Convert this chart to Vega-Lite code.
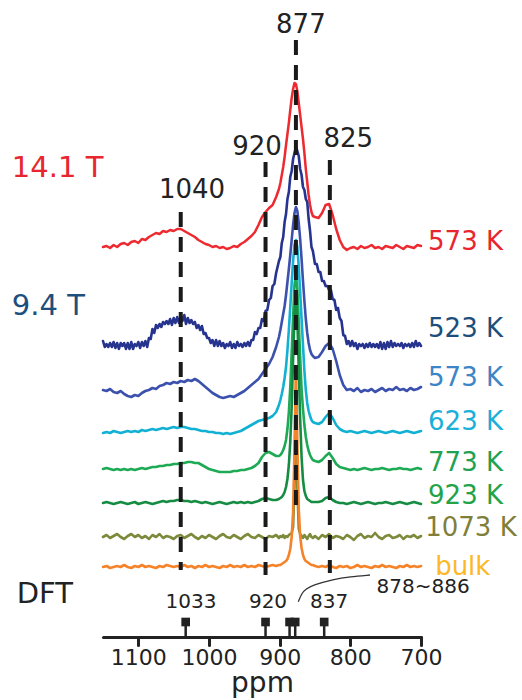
{
"$schema":"https://vega.github.io/schema/vega-lite/v6.json",
"width":318,"height":637,
"autosize":"none",
"padding":{"left":103,"top":0,"right":101,"bottom":63},
"config":{"view":{"stroke":null},"font":"DejaVu Sans"},
"resolve":{"scale":{"color":"independent"}},
"datasets":{
"spectra":[
{"ppm":1150,"r573":390,"b573":247,"c623":204,"g773":168,"d923":134,"o1073":100,"bulk":70},
{"ppm":1145,"r573":391,"b573":246,"c623":205,"g773":169,"d923":135,"o1073":102,"bulk":71},
{"ppm":1140,"r573":389,"b573":248,"c623":204,"g773":168,"d923":134,"o1073":99,"bulk":69},
{"ppm":1135,"r573":392,"b573":245,"c623":206,"g773":167,"d923":133,"o1073":101,"bulk":70},
{"ppm":1130,"r573":390,"b573":244,"c623":205,"g773":168,"d923":134,"o1073":103,"bulk":71},
{"ppm":1125,"r573":393,"b573":246,"c623":204,"g773":167,"d923":135,"o1073":100,"bulk":70},
{"ppm":1120,"r573":394,"b573":243,"c623":205,"g773":168,"d923":134,"o1073":98,"bulk":72},
{"ppm":1115,"r573":392,"b573":241,"c623":206,"g773":167,"d923":133,"o1073":101,"bulk":70},
{"ppm":1110,"r573":395,"b573":240,"c623":205,"g773":168,"d923":134,"o1073":103,"bulk":69},
{"ppm":1105,"r573":396,"b573":242,"c623":206,"g773":167,"d923":135,"o1073":100,"bulk":71},
{"ppm":1100,"r573":394,"b573":241,"c623":205,"g773":168,"d923":133,"o1073":102,"bulk":70},
{"ppm":1095,"r573":398,"b573":244,"c623":207,"g773":169,"d923":134,"o1073":99,"bulk":72},
{"ppm":1090,"r573":397,"b573":246,"c623":206,"g773":168,"d923":135,"o1073":101,"bulk":70},
{"ppm":1085,"r573":400,"b573":247,"c623":207,"g773":169,"d923":134,"o1073":98,"bulk":71},
{"ppm":1080,"r573":402,"b573":249,"c623":208,"g773":170,"d923":133,"o1073":102,"bulk":70},
{"ppm":1075,"r573":404,"b573":248,"c623":207,"g773":170,"d923":134,"o1073":100,"bulk":69},
{"ppm":1070,"r573":403,"b573":251,"c623":208,"g773":171,"d923":135,"o1073":103,"bulk":71},
{"ppm":1065,"r573":406,"b573":252,"c623":209,"g773":171,"d923":136,"o1073":99,"bulk":70},
{"ppm":1060,"r573":405,"b573":254,"c623":208,"g773":172,"d923":135,"o1073":101,"bulk":72},
{"ppm":1055,"r573":407,"b573":253,"c623":209,"g773":172,"d923":136,"o1073":100,"bulk":71},
{"ppm":1050,"r573":406,"b573":255,"c623":210,"g773":173,"d923":136,"o1073":98,"bulk":70},
{"ppm":1045,"r573":408,"b573":254,"c623":209,"g773":173,"d923":137,"o1073":101,"bulk":71},
{"ppm":1040,"r573":408,"b573":256,"c623":210,"g773":174,"d923":137,"o1073":102,"bulk":70},
{"ppm":1035,"r573":406,"b573":255,"c623":210,"g773":174,"d923":136,"o1073":99,"bulk":72},
{"ppm":1030,"r573":404,"b573":257,"c623":209,"g773":175,"d923":136,"o1073":101,"bulk":70},
{"ppm":1025,"r573":402,"b573":256,"c623":208,"g773":175,"d923":135,"o1073":103,"bulk":71},
{"ppm":1020,"r573":400,"b573":258,"c623":208,"g773":174,"d923":136,"o1073":100,"bulk":69},
{"ppm":1015,"r573":397,"b573":256,"c623":207,"g773":174,"d923":135,"o1073":98,"bulk":71},
{"ppm":1010,"r573":395,"b573":253,"c623":206,"g773":172,"d923":134,"o1073":101,"bulk":70},
{"ppm":1005,"r573":393,"b573":250,"c623":206,"g773":170,"d923":135,"o1073":99,"bulk":72},
{"ppm":1000,"r573":392,"b573":247,"c623":205,"g773":168,"d923":134,"o1073":102,"bulk":70},
{"ppm":995,"r573":390,"b573":244,"c623":205,"g773":167,"d923":133,"o1073":100,"bulk":71},
{"ppm":990,"r573":391,"b573":242,"c623":204,"g773":166,"d923":134,"o1073":98,"bulk":70},
{"ppm":985,"r573":389,"b573":240,"c623":204,"g773":165,"d923":135,"o1073":101,"bulk":69},
{"ppm":980,"r573":390,"b573":239,"c623":203,"g773":165,"d923":134,"o1073":103,"bulk":71},
{"ppm":975,"r573":388,"b573":240,"c623":204,"g773":165,"d923":133,"o1073":100,"bulk":70},
{"ppm":970,"r573":389,"b573":241,"c623":203,"g773":165,"d923":134,"o1073":99,"bulk":72},
{"ppm":965,"r573":391,"b573":240,"c623":204,"g773":166,"d923":135,"o1073":102,"bulk":70},
{"ppm":960,"r573":390,"b573":242,"c623":205,"g773":166,"d923":134,"o1073":100,"bulk":71},
{"ppm":955,"r573":393,"b573":244,"c623":206,"g773":167,"d923":135,"o1073":98,"bulk":70},
{"ppm":950,"r573":395,"b573":246,"c623":208,"g773":167,"d923":134,"o1073":101,"bulk":72},
{"ppm":945,"r573":398,"b573":249,"c623":210,"g773":168,"d923":135,"o1073":103,"bulk":70},
{"ppm":940,"r573":401,"b573":252,"c623":212,"g773":169,"d923":134,"o1073":100,"bulk":71},
{"ppm":935,"r573":405,"b573":255,"c623":214,"g773":171,"d923":135,"o1073":99,"bulk":70},
{"ppm":930,"r573":412,"b573":258,"c623":216,"g773":174,"d923":136,"o1073":102,"bulk":72},
{"ppm":925,"r573":420,"b573":263,"c623":217,"g773":180,"d923":138,"o1073":100,"bulk":71},
{"ppm":920,"r573":425,"b573":268,"c623":218,"g773":184,"d923":139,"o1073":98,"bulk":70},
{"ppm":915,"r573":429,"b573":273,"c623":219,"g773":185,"d923":138,"o1073":101,"bulk":71},
{"ppm":910,"r573":432,"b573":280,"c623":221,"g773":183,"d923":137,"o1073":100,"bulk":72},
{"ppm":905,"r573":440,"b573":290,"c623":225,"g773":181,"d923":137,"o1073":102,"bulk":71},
{"ppm":901,"r573":448,"b573":300,"c623":232,"g773":181,"d923":138,"o1073":99,"bulk":72},
{"ppm":899,"r573":454,"b573":307,"c623":237,"g773":182,"d923":139,"o1073":101,"bulk":72},
{"ppm":897,"r573":462,"b573":315,"c623":243,"g773":184,"d923":140,"o1073":100,"bulk":73},
{"ppm":895,"r573":470,"b573":323,"c623":250,"g773":187,"d923":142,"o1073":102,"bulk":74},
{"ppm":893,"r573":480,"b573":331,"c623":259,"g773":191,"d923":145,"o1073":99,"bulk":75},
{"ppm":891,"r573":492,"b573":342,"c623":270,"g773":197,"d923":150,"o1073":101,"bulk":76},
{"ppm":889,"r573":503,"b573":355,"c623":287,"g773":208,"d923":158,"o1073":100,"bulk":78},
{"ppm":887,"r573":514,"b573":368,"c623":307,"g773":225,"d923":172,"o1073":102,"bulk":82},
{"ppm":885,"r573":527,"b573":382,"c623":330,"g773":250,"d923":195,"o1073":103,"bulk":88},
{"ppm":883,"r573":539,"b573":397,"c623":354,"g773":285,"d923":230,"o1073":104,"bulk":100},
{"ppm":881,"r573":548,"b573":412,"c623":376,"g773":320,"d923":278,"o1073":110,"bulk":125},
{"ppm":879,"r573":554,"b573":424,"c623":392,"g773":352,"d923":322,"o1073":150,"bulk":190},
{"ppm":877,"r573":553,"b573":430,"c623":397,"g773":362,"d923":340,"o1073":245,"bulk":270},
{"ppm":875,"r573":546,"b573":426,"c623":390,"g773":348,"d923":318,"o1073":150,"bulk":195},
{"ppm":873,"r573":534,"b573":414,"c623":370,"g773":315,"d923":268,"o1073":108,"bulk":128},
{"ppm":871,"r573":522,"b573":398,"c623":345,"g773":280,"d923":218,"o1073":103,"bulk":101},
{"ppm":869,"r573":510,"b573":378,"c623":318,"g773":248,"d923":180,"o1073":101,"bulk":89},
{"ppm":867,"r573":498,"b573":356,"c623":292,"g773":228,"d923":157,"o1073":99,"bulk":82},
{"ppm":865,"r573":484,"b573":336,"c623":266,"g773":212,"d923":146,"o1073":102,"bulk":78},
{"ppm":863,"r573":468,"b573":318,"c623":247,"g773":200,"d923":141,"o1073":100,"bulk":76},
{"ppm":861,"r573":455,"b573":304,"c623":234,"g773":192,"d923":138,"o1073":98,"bulk":75},
{"ppm":859,"r573":442,"b573":294,"c623":226,"g773":186,"d923":137,"o1073":101,"bulk":74},
{"ppm":857,"r573":432,"b573":287,"c623":221,"g773":182,"d923":136,"o1073":103,"bulk":73},
{"ppm":855,"r573":425,"b573":283,"c623":217,"g773":179,"d923":135,"o1073":100,"bulk":72},
{"ppm":853,"r573":421,"b573":281,"c623":215,"g773":177,"d923":135,"o1073":99,"bulk":72},
{"ppm":850,"r573":420,"b573":279,"c623":214,"g773":176,"d923":135,"o1073":101,"bulk":71},
{"ppm":845,"r573":419,"b573":280,"c623":213,"g773":175,"d923":135,"o1073":98,"bulk":70},
{"ppm":840,"r573":424,"b573":285,"c623":215,"g773":177,"d923":136,"o1073":102,"bulk":71},
{"ppm":835,"r573":432,"b573":291,"c623":220,"g773":181,"d923":139,"o1073":100,"bulk":70},
{"ppm":830,"r573":433,"b573":294,"c623":224,"g773":184,"d923":140,"o1073":103,"bulk":72},
{"ppm":825,"r573":422,"b573":288,"c623":219,"g773":179,"d923":137,"o1073":99,"bulk":70},
{"ppm":820,"r573":408,"b573":276,"c623":212,"g773":173,"d923":135,"o1073":101,"bulk":69},
{"ppm":815,"r573":397,"b573":262,"c623":208,"g773":170,"d923":134,"o1073":100,"bulk":71},
{"ppm":810,"r573":390,"b573":252,"c623":206,"g773":169,"d923":134,"o1073":98,"bulk":70},
{"ppm":805,"r573":387,"b573":247,"c623":205,"g773":168,"d923":133,"o1073":102,"bulk":71},
{"ppm":800,"r573":389,"b573":248,"c623":206,"g773":167,"d923":134,"o1073":100,"bulk":69},
{"ppm":795,"r573":390,"b573":246,"c623":205,"g773":168,"d923":135,"o1073":97,"bulk":70},
{"ppm":790,"r573":388,"b573":249,"c623":204,"g773":167,"d923":134,"o1073":101,"bulk":72},
{"ppm":785,"r573":391,"b573":245,"c623":205,"g773":168,"d923":133,"o1073":103,"bulk":70},
{"ppm":780,"r573":389,"b573":247,"c623":206,"g773":169,"d923":134,"o1073":99,"bulk":71},
{"ppm":775,"r573":390,"b573":246,"c623":205,"g773":168,"d923":135,"o1073":101,"bulk":70},
{"ppm":770,"r573":392,"b573":248,"c623":204,"g773":167,"d923":134,"o1073":100,"bulk":69},
{"ppm":765,"r573":389,"b573":245,"c623":205,"g773":168,"d923":133,"o1073":104,"bulk":71},
{"ppm":760,"r573":390,"b573":247,"c623":206,"g773":168,"d923":134,"o1073":100,"bulk":70},
{"ppm":755,"r573":388,"b573":249,"c623":205,"g773":169,"d923":134,"o1073":98,"bulk":72},
{"ppm":750,"r573":391,"b573":246,"c623":204,"g773":168,"d923":135,"o1073":101,"bulk":70},
{"ppm":745,"r573":390,"b573":248,"c623":205,"g773":167,"d923":134,"o1073":102,"bulk":71},
{"ppm":740,"r573":389,"b573":247,"c623":206,"g773":168,"d923":133,"o1073":99,"bulk":70},
{"ppm":735,"r573":392,"b573":250,"c623":205,"g773":168,"d923":134,"o1073":100,"bulk":69},
{"ppm":730,"r573":390,"b573":247,"c623":204,"g773":169,"d923":135,"o1073":102,"bulk":71},
{"ppm":725,"r573":388,"b573":248,"c623":205,"g773":168,"d923":134,"o1073":98,"bulk":70},
{"ppm":720,"r573":391,"b573":246,"c623":206,"g773":168,"d923":133,"o1073":101,"bulk":72},
{"ppm":715,"r573":390,"b573":249,"c623":205,"g773":167,"d923":134,"o1073":100,"bulk":70},
{"ppm":710,"r573":389,"b573":247,"c623":204,"g773":168,"d923":135,"o1073":102,"bulk":71},
{"ppm":705,"r573":392,"b573":248,"c623":205,"g773":169,"d923":134,"o1073":99,"bulk":70},
{"ppm":700,"r573":391,"b573":250,"c623":206,"g773":168,"d923":133,"o1073":101,"bulk":71}
],
"navy":[
{"ppm":1150,"v":296},{"ppm":1147.5,"v":290},{"ppm":1145,"v":293},{"ppm":1142.5,"v":290},{"ppm":1140,"v":294},
{"ppm":1137.5,"v":290},{"ppm":1135,"v":295},{"ppm":1132.5,"v":289},{"ppm":1130,"v":294},{"ppm":1127.5,"v":288},
{"ppm":1125,"v":294},{"ppm":1122.5,"v":291},{"ppm":1120,"v":294},{"ppm":1117.5,"v":288},{"ppm":1115,"v":294},
{"ppm":1112.5,"v":288},{"ppm":1110,"v":295},{"ppm":1107.5,"v":288},{"ppm":1105,"v":293},{"ppm":1102.5,"v":291},
{"ppm":1100,"v":295},{"ppm":1097.5,"v":289},{"ppm":1095,"v":295},{"ppm":1092.5,"v":291},{"ppm":1090,"v":296},
{"ppm":1087.5,"v":290},{"ppm":1085,"v":299},{"ppm":1082.5,"v":298},{"ppm":1080,"v":308},{"ppm":1077.5,"v":304},
{"ppm":1075,"v":312},{"ppm":1072.5,"v":309},{"ppm":1070,"v":313},{"ppm":1067.5,"v":310},{"ppm":1065,"v":315},
{"ppm":1062.5,"v":313},{"ppm":1060,"v":316},{"ppm":1057.5,"v":313},{"ppm":1055,"v":318},{"ppm":1052.5,"v":312},
{"ppm":1050,"v":319},{"ppm":1047.5,"v":314},{"ppm":1045,"v":320},{"ppm":1042.5,"v":314},{"ppm":1040,"v":321},
{"ppm":1037.5,"v":316},{"ppm":1035,"v":322},{"ppm":1032.5,"v":313},{"ppm":1030,"v":319},{"ppm":1027.5,"v":314},
{"ppm":1025,"v":317},{"ppm":1022.5,"v":313},{"ppm":1020,"v":315},{"ppm":1017.5,"v":309},{"ppm":1015,"v":312},
{"ppm":1012.5,"v":307},{"ppm":1010,"v":311},{"ppm":1007.5,"v":303},{"ppm":1005,"v":304},{"ppm":1002.5,"v":299},
{"ppm":1000,"v":299},{"ppm":997.5,"v":294},{"ppm":995,"v":297},{"ppm":992.5,"v":291},{"ppm":990,"v":297},
{"ppm":987.5,"v":291},{"ppm":985,"v":296},{"ppm":982.5,"v":291},{"ppm":980,"v":294},{"ppm":977.5,"v":289},
{"ppm":975,"v":293},{"ppm":972.5,"v":291},{"ppm":970,"v":295},{"ppm":967.5,"v":289},{"ppm":965,"v":293},
{"ppm":962.5,"v":289},{"ppm":960,"v":295},{"ppm":957.5,"v":291},{"ppm":955,"v":293},{"ppm":952.5,"v":290},
{"ppm":950,"v":294},{"ppm":947.5,"v":291},{"ppm":945,"v":295},{"ppm":942.5,"v":291},{"ppm":940,"v":297},
{"ppm":937.5,"v":297},{"ppm":935,"v":305},{"ppm":932.5,"v":303},{"ppm":930,"v":309},{"ppm":927.5,"v":309},
{"ppm":925,"v":318},{"ppm":922.5,"v":316},{"ppm":920,"v":326},{"ppm":917.5,"v":327},{"ppm":915,"v":337},
{"ppm":912.5,"v":339},{"ppm":910,"v":351},{"ppm":907.5,"v":353},{"ppm":905,"v":364},
{"ppm":901,"v":376},{"ppm":899,"v":380},{"ppm":897,"v":394},{"ppm":895,"v":400},{"ppm":893,"v":415},
{"ppm":891,"v":423},{"ppm":889,"v":438},{"ppm":887,"v":445},{"ppm":885,"v":460},{"ppm":883,"v":466},
{"ppm":881,"v":478},{"ppm":879,"v":484},{"ppm":877,"v":490},{"ppm":875,"v":486},{"ppm":873,"v":481},
{"ppm":871,"v":468},{"ppm":869,"v":462},{"ppm":867,"v":450},{"ppm":865,"v":447},{"ppm":863,"v":438},
{"ppm":861,"v":435},{"ppm":859,"v":418},{"ppm":857,"v":406},{"ppm":855,"v":390},{"ppm":853,"v":386},
{"ppm":850,"v":373},{"ppm":847.5,"v":373},{"ppm":845,"v":365},{"ppm":842.5,"v":365},{"ppm":840,"v":356},
{"ppm":837.5,"v":356},{"ppm":835,"v":351},{"ppm":832.5,"v":351},{"ppm":830,"v":347},{"ppm":827.5,"v":347},
{"ppm":825,"v":338},{"ppm":822.5,"v":337},{"ppm":820,"v":327},{"ppm":817.5,"v":329},{"ppm":815,"v":319},
{"ppm":812.5,"v":316},{"ppm":810,"v":302},{"ppm":807.5,"v":301},{"ppm":805,"v":293},{"ppm":802.5,"v":296},
{"ppm":800,"v":291},{"ppm":797.5,"v":296},{"ppm":795,"v":291},{"ppm":792.5,"v":294},{"ppm":790,"v":288},
{"ppm":787.5,"v":293},{"ppm":785,"v":291},{"ppm":782.5,"v":293},{"ppm":780,"v":289},{"ppm":777.5,"v":293},
{"ppm":775,"v":290},{"ppm":772.5,"v":294},{"ppm":770,"v":290},{"ppm":767.5,"v":293},{"ppm":765,"v":290},
{"ppm":762.5,"v":293},{"ppm":760,"v":289},{"ppm":757.5,"v":295},{"ppm":755,"v":288},{"ppm":752.5,"v":294},
{"ppm":750,"v":288},{"ppm":747.5,"v":295},{"ppm":745,"v":290},{"ppm":742.5,"v":296},{"ppm":740,"v":290},
{"ppm":737.5,"v":294},{"ppm":735,"v":291},{"ppm":732.5,"v":293},{"ppm":730,"v":291},{"ppm":727.5,"v":294},
{"ppm":725,"v":289},{"ppm":722.5,"v":293},{"ppm":720,"v":291},{"ppm":717.5,"v":293},{"ppm":715,"v":290},
{"ppm":712.5,"v":294},{"ppm":710,"v":290},{"ppm":707.5,"v":296},{"ppm":705,"v":291},{"ppm":702.5,"v":294},
{"ppm":700,"v":291}
],
"guides":[
{"ppm":1040,"top":425,"bot":67},
{"ppm":920,"top":475,"bot":62},
{"ppm":877,"top":597,"bot":125},
{"ppm":829,"top":477,"bot":64}
],
"peaklabels":[
{"t":"877","ppm":870,"v":604},
{"t":"920","ppm":932,"v":482},
{"t":"825","ppm":803,"v":490},
{"t":"1040","ppm":1024,"v":439}
],
"templabels":[
{"series":"r573","t":"573 K","ppm":690,"v":387},
{"series":"n523","t":"523 K","ppm":690,"v":300},
{"series":"b573","t":"573 K","ppm":690,"v":251},
{"series":"c623","t":"623 K","ppm":690,"v":207},
{"series":"g773","t":"773 K","ppm":690,"v":166},
{"series":"d923","t":"923 K","ppm":690,"v":133},
{"series":"o1073","t":"1073 K","ppm":694,"v":101},
{"series":"bulk","t":"bulk","ppm":680,"v":62}
],
"sidelabels":[
{"t":"14.1 T","ppm":1279,"v":460},
{"t":"9.4 T","ppm":1279,"v":322},
{"t":"DFT","ppm":1272,"v":34}
],
"dft":[
{"ppm":1033},{"ppm":920},{"ppm":886},{"ppm":878},{"ppm":837}
],
"dftlabels":[
{"t":"1033","ppm":1025.5,"v":29},
{"t":"920","ppm":916.5,"v":29},
{"t":"837","ppm":830,"v":29},
{"t":"878~886","ppm":697,"v":44}
],
"curve":[
{"ppm":873.6,"v":35.3},
{"ppm":868.8,"v":43.7},
{"ppm":862.9,"v":48},
{"ppm":852.4,"v":52},
{"ppm":824.1,"v":57.7},
{"ppm":800.5,"v":60.3},
{"ppm":772.2,"v":62}
]
},
"layer":[
{
"data":{"name":"spectra"},
"mark":{"type":"line","strokeJoin":"round","strokeCap":"round","strokeWidth":2.5,"color":"#ec2a30"},
"encoding":{
"x":{"field":"ppm","type":"quantitative","scale":{"domain":[700,1150],"reverse":true,"nice":false,"zero":false},
"axis":{"values":[1150,1100,1050,1000,950,900,850,800,750,700],
"labelExpr":"datum.value % 100 == 0 ? format(datum.value, 'd') : ''",
"tickSize":{"condition":{"test":"datum.value % 100 == 0","value":8},"value":4},
"tickWidth":3,"tickColor":"#222222","tickCap":"round",
"domainColor":"#222222","domainWidth":3,"domainCap":"round",
"labelFontSize":22,"labelColor":"#222222","labelFont":"DejaVu Sans","labelPadding":2,"labelFlush":false,"labelOverlap":false,
"title":"ppm","titleFontSize":28,"titleFont":"DejaVu Sans","titleFontWeight":"normal","titleColor":"#222222","titlePadding":1,
"grid":false}},
"y":{"field":"r573","type":"quantitative","scale":{"domain":[0,637],"nice":false,"zero":false},"axis":null}
}
},
{
"data":{"name":"navy"},
"mark":{"type":"line","strokeJoin":"round","strokeCap":"round","strokeWidth":2.6,"color":"#26338f"},
"encoding":{
"x":{"field":"ppm","type":"quantitative","scale":{"domain":[700,1150],"reverse":true,"nice":false,"zero":false}},
"y":{"field":"v","type":"quantitative","scale":{"domain":[0,637],"nice":false,"zero":false},"axis":null}
}
},
{
"data":{"name":"spectra"},
"transform":[{"fold":["b573","c623","g773","d923","o1073","bulk"],"as":["series","v"]}],
"mark":{"type":"line","strokeJoin":"round","strokeCap":"round"},
"encoding":{
"x":{"field":"ppm","type":"quantitative","scale":{"domain":[700,1150],"reverse":true,"nice":false,"zero":false}},
"y":{"field":"v","type":"quantitative","scale":{"domain":[0,637],"nice":false,"zero":false},"axis":null},
"color":{"field":"series","type":"nominal","sort":null,
"scale":{"domain":["b573","c623","g773","d923","o1073","bulk"],
"range":["#3b51ad","#12b0d2","#1eaa55","#168c43","#7c8b3b","#f5832a"]},"legend":null},
"size":{"field":"series","type":"nominal","sort":null,
"scale":{"domain":["b573","c623","g773","d923","o1073","bulk"],
"range":[2.6,2.6,2.6,2.6,3,2.8]},"legend":null}
}
},
{
"data":{"name":"guides"},
"mark":{"type":"rule","strokeDash":[15,10],"strokeWidth":4,"color":"#1a1a1a"},
"encoding":{
"x":{"field":"ppm","type":"quantitative","scale":{"domain":[700,1150],"reverse":true,"nice":false,"zero":false}},
"y":{"field":"top","type":"quantitative","scale":{"domain":[0,637],"nice":false,"zero":false},"axis":null},
"y2":{"field":"bot"}
}
},
{
"data":{"name":"dft"},
"mark":{"type":"rule","strokeWidth":2.5,"color":"#222222"},
"encoding":{
"x":{"field":"ppm","type":"quantitative","scale":{"domain":[700,1150],"reverse":true,"nice":false,"zero":false}},
"y":{"datum":0,"type":"quantitative","scale":{"domain":[0,637],"nice":false,"zero":false},"axis":null},
"y2":{"datum":14}
}
},
{
"data":{"name":"dft"},
"mark":{"type":"point","shape":"square","filled":true,"size":75,"opacity":1,"color":"#222222"},
"encoding":{
"x":{"field":"ppm","type":"quantitative","scale":{"domain":[700,1150],"reverse":true,"nice":false,"zero":false}},
"y":{"datum":15,"type":"quantitative","scale":{"domain":[0,637],"nice":false,"zero":false},"axis":null}
}
},
{
"data":{"name":"curve"},
"mark":{"type":"line","interpolate":"basis","strokeWidth":1.3,"color":"#333333"},
"encoding":{
"x":{"field":"ppm","type":"quantitative","scale":{"domain":[700,1150],"reverse":true,"nice":false,"zero":false}},
"y":{"field":"v","type":"quantitative","scale":{"domain":[0,637],"nice":false,"zero":false},"axis":null}
}
},
{
"data":{"name":"peaklabels"},
"mark":{"type":"text","fontSize":26,"align":"center","baseline":"alphabetic","color":"#222222"},
"encoding":{
"x":{"field":"ppm","type":"quantitative","scale":{"domain":[700,1150],"reverse":true,"nice":false,"zero":false}},
"y":{"field":"v","type":"quantitative","scale":{"domain":[0,637],"nice":false,"zero":false},"axis":null},
"text":{"field":"t"}
}
},
{
"data":{"name":"templabels"},
"mark":{"type":"text","fontSize":26,"align":"left","baseline":"alphabetic"},
"encoding":{
"x":{"field":"ppm","type":"quantitative","scale":{"domain":[700,1150],"reverse":true,"nice":false,"zero":false}},
"y":{"field":"v","type":"quantitative","scale":{"domain":[0,637],"nice":false,"zero":false},"axis":null},
"text":{"field":"t"},
"color":{"field":"series","type":"nominal","sort":null,
"scale":{"domain":["r573","n523","b573","c623","g773","d923","o1073","bulk"],
"range":["#e8262e","#1d4f7c","#3d85c6","#1ab0d8","#1fa253","#23a348","#7f7f3a","#fdb827"]},"legend":null}
}
},
{
"data":{"name":"sidelabels"},
"mark":{"type":"text","fontSize":29,"align":"left","baseline":"alphabetic"},
"encoding":{
"x":{"field":"ppm","type":"quantitative","scale":{"domain":[700,1150],"reverse":true,"nice":false,"zero":false}},
"y":{"field":"v","type":"quantitative","scale":{"domain":[0,637],"nice":false,"zero":false},"axis":null},
"text":{"field":"t"},
"color":{"field":"t","type":"nominal","sort":null,
"scale":{"domain":["14.1 T","9.4 T","DFT"],"range":["#e8262e","#1d4f7c","#222222"]},"legend":null}
}
},
{
"data":{"name":"dftlabels"},
"mark":{"type":"text","fontSize":20,"align":"center","baseline":"alphabetic","color":"#222222"},
"encoding":{
"x":{"field":"ppm","type":"quantitative","scale":{"domain":[700,1150],"reverse":true,"nice":false,"zero":false}},
"y":{"field":"v","type":"quantitative","scale":{"domain":[0,637],"nice":false,"zero":false},"axis":null},
"text":{"field":"t"}
}
}
]
}
